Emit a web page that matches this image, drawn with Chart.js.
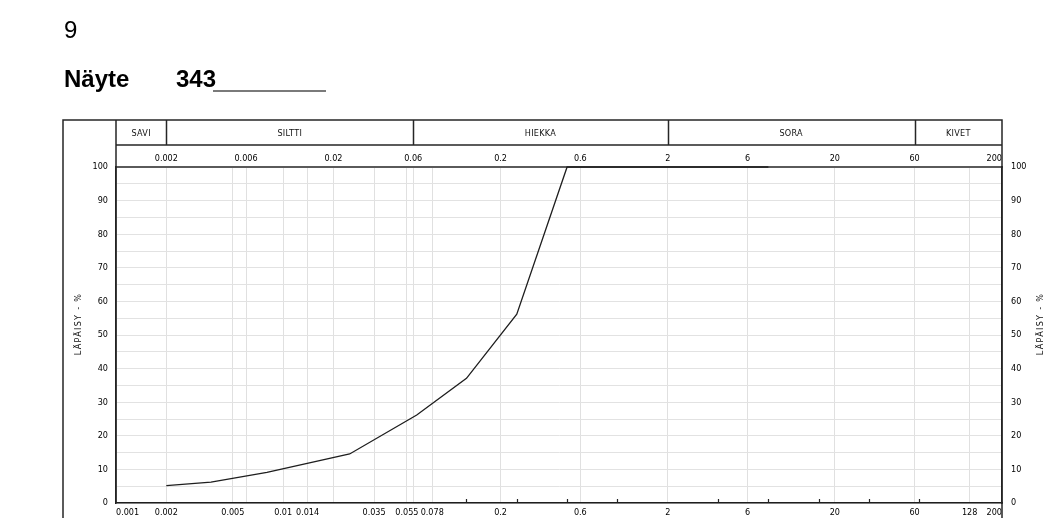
<!DOCTYPE html>
<html>
<head>
<meta charset="utf-8">
<title>Näyte 343</title>
<script src="https://cdn.jsdelivr.net/npm/chart.js@4.4.1/dist/chart.umd.min.js"></script>
<style>
  html, body { margin: 0; padding: 0; background: #fff; }
  #wrap { position: relative; width: 1050px; height: 518px; overflow: hidden; }
  #c { position: absolute; left: 0; top: 0; display: block; }
  .head { position: absolute; font-family: "Liberation Sans", Arial, sans-serif; font-size: 24px; line-height: 24px; color: #000; white-space: nowrap; }
  .bold { font-weight: bold; }
  #rule { position: absolute; left: 213px; top: 90px; width: 113px; height: 1.5px; background: #7a7a7a; }
</style>
</head>
<body>
<div id="wrap">
  <canvas id="c" width="1050" height="518"></canvas>
  <div class="head" style="left:64px; top:18px;">9</div>
  <div class="head bold" style="left:64px; top:67px;">Näyte</div>
  <div class="head bold" style="left:176px; top:67px;">343</div>
  <div id="rule"></div>
</div>
<script>
// Grain size distribution (sieve + hydrometer), sample 343
const grainSizeMm = [0.002, 0.0037, 0.008, 0.025, 0.063, 0.125, 0.25, 0.5, 1, 2, 4, 8];
const passingPct  = [5.2,   6.2,    9.1,   14.6,  26.2,  37.1,  56.2, 100, 100, 100, 100, 100];

// Scale annotations
const bottomLabels = [0.001, 0.002, 0.005, 0.01, 0.014, 0.035, 0.055, 0.078, 0.2, 0.6, 2, 6, 20, 60, 128, 200];
const gridSizes    = [0.001, 0.002, 0.005, 0.006, 0.01, 0.014, 0.02, 0.035, 0.055, 0.06, 0.078, 0.2, 0.6, 2, 6, 20, 60, 128, 200];
const topLabels    = [0.002, 0.006, 0.02, 0.06, 0.2, 0.6, 2, 6, 20, 60, 200];
const sieveMarks   = [0.125, 0.25, 0.5, 1, 4, 8, 16, 32, 64];
const fractionNames  = ['SAVI', 'SILTTI', 'HIEKKA', 'SORA', 'KIVET'];
const fractionLimits = [0.001, 0.002, 0.06, 2, 60, 200];
const axisTitle = 'LÄPÄISY - %';

const FONT = '"DejaVu Sans Condensed", "Liberation Sans Narrow", "Liberation Sans", sans-serif';
const X_MIN = 0.001, X_MAX = 200;

const fmt = v => String(v);
const fixedTicks = list => scale => { scale.ticks = list.map(v => ({ value: v })); };

// Frame, fraction header, sieve marks and vertical axis titles
const framePlugin = {
  id: 'frame',
  afterDraw(chart) {
    const { ctx, chartArea: a, scales: { x } } = chart;
    const pad = chart.options.layout.padding;
    const top = pad.top, headMid = top + 25, bottom = chart.height;
    const outerLeft = pad.left;
    ctx.save();
    ctx.strokeStyle = '#262626';
    ctx.lineWidth = 1.5;

    // outer frame
    ctx.beginPath();
    ctx.moveTo(outerLeft, bottom);
    ctx.lineTo(outerLeft, top);
    ctx.lineTo(a.right, top);
    ctx.lineTo(a.right, bottom);
    ctx.stroke();

    // plot left edge through header, header divider line
    ctx.beginPath();
    ctx.moveTo(a.left, top);
    ctx.lineTo(a.left, a.bottom);
    ctx.moveTo(a.left, headMid);
    ctx.lineTo(a.right, headMid);
    fractionLimits.slice(1, -1).forEach(v => {
      const px = Math.round(x.getPixelForValue(v)) + 0.5;
      ctx.moveTo(px, top);
      ctx.lineTo(px, headMid);
    });
    ctx.stroke();

    // fraction names
    ctx.fillStyle = '#111';
    ctx.font = '9px ' + FONT;
    ctx.textAlign = 'center';
    ctx.textBaseline = 'middle';
    ctx.letterSpacing = '0.3px';
    fractionNames.forEach((name, i) => {
      const cx = (x.getPixelForValue(fractionLimits[i]) + x.getPixelForValue(fractionLimits[i + 1])) / 2;
      ctx.fillText(name, cx, (top + headMid) / 2 + 1);
    });

    // short sieve ticks on the bottom axis
    ctx.lineWidth = 1.2;
    ctx.strokeStyle = '#222';
    ctx.beginPath();
    sieveMarks.forEach(v => {
      const px = Math.round(x.getPixelForValue(v)) + 0.5;
      ctx.moveTo(px, a.bottom);
      ctx.lineTo(px, a.bottom - 4);
    });
    ctx.stroke();

    // vertical axis titles (both read bottom to top)
    ctx.font = '9px ' + FONT;
    ctx.letterSpacing = '1.3px';
    const ty = 324;
    [outerLeft + 16, chart.width - 9].forEach(tx => {
      ctx.save();
      ctx.translate(tx, ty);
      ctx.rotate(-Math.PI / 2);
      ctx.fillText(axisTitle, 0, 0);
      ctx.restore();
    });
    ctx.restore();
  }
};

const tickFont = { family: FONT, size: 9 };

new Chart(document.getElementById('c'), {
  type: 'scatter',
  data: {
    datasets: [{
      data: grainSizeMm.map((d, i) => ({ x: d, y: passingPct[i] })),
      showLine: true,
      borderColor: '#1e1e1e',
      borderWidth: 1.3,
      pointRadius: 0,
      pointHoverRadius: 0,
      tension: 0,
      fill: false,
      clip: false
    }]
  },
  options: {
    responsive: false,
    animation: false,
    devicePixelRatio: 1,
    layout: { padding: { left: 63, right: 0, top: 120, bottom: 0 } },
    plugins: { legend: { display: false }, tooltip: { enabled: false } },
    events: [],
    scales: {
      x: {
        type: 'logarithmic',
        position: 'bottom',
        min: X_MIN, max: X_MAX,
        afterBuildTicks: fixedTicks(gridSizes),
        afterFit: s => { s.height = 15; },
        grid: {
          drawTicks: false,
          color: c => (c.tick && (c.tick.value === X_MIN || c.tick.value === X_MAX)) ? 'rgba(0,0,0,0)' : '#e0e0e0',
          lineWidth: 1
        },
        border: { display: true, color: '#1e1e1e', width: 1.5 },
        ticks: {
          autoSkip: false, maxRotation: 0, minRotation: 0, align: 'inner',
          padding: 4, color: '#000', font: tickFont,
          callback: v => bottomLabels.includes(v) ? fmt(v) : ''
        }
      },
      x2: {
        type: 'logarithmic',
        position: 'top',
        min: X_MIN, max: X_MAX,
        afterBuildTicks: fixedTicks([X_MIN].concat(topLabels)),
        afterFit: s => { s.height = 47; },
        grid: { display: false, drawTicks: false },
        border: { display: true, color: '#5a5a5a', width: 2 },
        ticks: {
          autoSkip: false, maxRotation: 0, minRotation: 0, align: 'inner',
          padding: 3, color: '#000', font: tickFont,
          callback: v => topLabels.includes(v) ? fmt(v) : ''
        }
      },
      y: {
        type: 'linear',
        position: 'left',
        min: 0, max: 100,
        afterFit: s => { s.width = 53; },
        grid: { drawTicks: false, color: '#e2e2e2', lineWidth: 1 },
        border: { display: true, color: '#1e1e1e', width: 1.5 },
        ticks: {
          stepSize: 5, padding: 8, color: '#000', font: tickFont,
          callback: v => v % 10 === 0 ? String(v) : ''
        }
      },
      y2: {
        type: 'linear',
        position: 'right',
        min: 0, max: 100,
        afterFit: s => { s.width = 48; },
        grid: { display: false, drawTicks: false },
        border: { display: true, color: '#1e1e1e', width: 1.5 },
        ticks: {
          stepSize: 10, padding: 9, color: '#000', font: tickFont,
          callback: v => String(v)
        }
      }
    }
  },
  plugins: [framePlugin]
});
</script>
</body>
</html>
